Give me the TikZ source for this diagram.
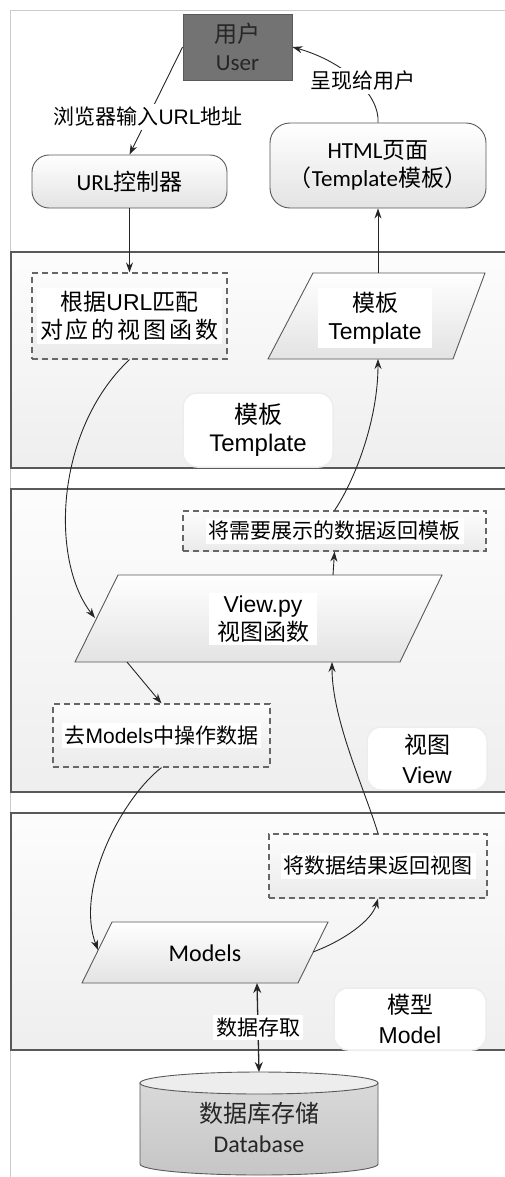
\documentclass[tikz,border=0pt]{standalone}
\usepackage{fontspec}
\setmainfont{Liberation Sans}
\newfontfamily\cjk{Noto Sans CJK SC}
\newfontfamily\calfont{Carlito}
\usetikzlibrary{arrows.meta}
\newcommand{\zh}[1]{{\cjk #1}}
\newcommand{\sz}[2]{\fontsize{#1}{#2}\selectfont}
\begin{document}
\begin{tikzpicture}[x=1pt,y=-1pt,
  font=\sz{23}{28},
  sect/.style={draw=black!65, line width=1.1pt, top color=gray!2, bottom color=gray!13},
  shp/.style={draw=black!65, line width=0.9pt, top color=white, bottom color=gray!22},
  dbox/.style={draw=black!60, line width=1.1pt, dash pattern=on 6pt off 4pt, top color=gray!2, bottom color=gray!16},
  wt/.style={fill=white, inner sep=3pt, align=center},
  small/.style={font=\sz{21}{25}},
  tag/.style={fill=white, rounded corners=14pt, draw=gray!14, line width=1.5pt, align=center},
  arr/.style={-{Stealth[length=10pt,width=7pt]}, line width=0.9pt, draw=black!85},
  darr/.style={{Stealth[length=10pt,width=8pt]}-{Stealth[length=10pt,width=8pt]}, line width=1.3pt, draw=black!85}
]
\useasboundingbox (0,0) rectangle (504,1177);
\fill[white] (0,0) rectangle (504,1177);
\draw[gray!40, line width=1pt] (10,1180) -- (10,11) -- (510,11);

% layers
\path[sect] (11,252) rectangle (515,468);
\path[sect] (11,489) rectangle (515,792);
\path[sect] (11,813) rectangle (515,1050);

% top: user, URL, HTML
\node[draw=black!65, fill=black!55, line width=0.8pt, minimum width=109, minimum height=66, align=center, text=black!85] (user) at (237.5,47) {\zh{用户}\\{\calfont User}};
\node[shp, rounded corners=17pt, minimum width=195, minimum height=53] (url) at (129.5,181.5) {{\calfont URL}\zh{控制器}};
\node[shp, rounded corners=20pt, minimum width=216, minimum height=85, align=center] (html) at (378,165.5) {{\calfont HTML}\zh{页面}\\\zh{（}{\calfont Template}\zh{模板）}};

\draw[arr] (user.west) -- node[pos=0.65, wt, small] (l1) {\zh{浏览器输入}URL\zh{地址}} (url.north);
\draw[arr] (html.north) .. controls (380,95) and (345,62) .. (user.east);
\node[wt, small] (l2) at (363,81) {\zh{呈现给用户}};

% Template layer
\node[dbox, minimum width=195, minimum height=86] (d1) at (129.5,316) {};
\node[wt] (t1) at (d1) {\zh{根据}URL\zh{匹配}\\\zh{对\hspace{3pt}应\hspace{3pt}的\hspace{3pt}视\hspace{3pt}图\hspace{3pt}函\hspace{3pt}数}};
\path[shp] (268,359) -- (313,273) -- (485,273) -- (453,359) -- cycle;
\coordinate (tpTop) at (378,273);
\coordinate (tpBot) at (378,359);
\node[wt, inner xsep=10pt, inner ysep=4pt] (tp) at (375,318) {\zh{模板}\\Template};
\node[tag, minimum width=150, minimum height=74, font=\sz{24}{28}] (tagT) at (258,430) {\zh{模板}\\Template};

\draw[arr] (url.south) -- (d1.north);
\draw[arr] (tpTop) -- (html.south);

% View layer
\node[dbox, minimum width=303, minimum height=40] (d2) at (334.5,531) {};
\node[wt, small] (t2) at (d2) {\zh{将需要展示的数据返回模板}};
\path[shp] (75,662) -- (118,575) -- (442,575) -- (400,662) -- cycle;
\coordinate (vTop) at (333,575);
\coordinate (vL) at (95,618);
\coordinate (vBl) at (127,662);
\coordinate (vBr) at (332,662);
\node[wt, inner xsep=8pt, inner ysep=3pt] (vp) at (263,619) {View.py\\\zh{视图函数}};
\node[dbox, minimum width=217, minimum height=63] (d3) at (161.5,735.5) {};
\node[wt, small] (t3) at (d3) {\zh{去}Models\zh{中操作数据}};
\node[tag, minimum width=120, minimum height=63, font=\sz{23}{30}] (tagV) at (427,758.5) {\zh{视图}\\View};

\draw[arr] (vTop) -- (d2.south);
\draw[arr] (vBl) -- (d3.north);

% Model layer
\node[dbox, minimum width=218, minimum height=64] (d4) at (378,866) {};
\node[wt, small] (t4) at (d4) {\zh{将数据结果返回视图}};
\path[shp] (82,983) -- (112,922) -- (328,922) -- (298,983) -- cycle;
\coordinate (mL) at (98,950);
\coordinate (mR) at (313,952);
\coordinate (mB) at (257,983);
\node[font=\calfont\sz{24}{28}] (mods) at (205,953) {Models};
\node[tag, minimum width=152, minimum height=62, font=\sz{23}{30}] (tagM) at (410,1019) {\zh{模型}\\Model};

% database
\path[top color=gray!30, bottom color=gray!45, draw=black!65, line width=0.9pt] (140,1083) -- (140,1164) arc[start angle=180, end angle=0, x radius=119, y radius=11] -- (378,1083) -- cycle;
\draw[fill=gray!14, draw=black!65, line width=0.9pt] (259,1083) ellipse [x radius=119, y radius=11];
\coordinate (dbTop) at (259,1072);
\node[align=center, font=\sz{24}{30}, text=black!85] (db) at (259,1127) {\zh{数据库存储}\\{\calfont Database}};

\draw[darr] (mB) -- node[wt, small] (l3) {\zh{数据存取}} (dbTop);

% curved connectors
\draw[arr] (d1.south) .. controls (55,430) and (50,560) .. (vL);
\draw[arr] (d3.south) .. controls (120,800) and (75,890) .. (mL);
\draw[arr] (mR) .. controls (345,940) and (372,920) .. (d4.south);
\draw[arr] (d4.north) .. controls (365,790) and (332,720) .. (vBr);
\draw[arr] (d2.north) .. controls (355,480) and (378,420) .. (tpBot);
\end{tikzpicture}
\end{document}
